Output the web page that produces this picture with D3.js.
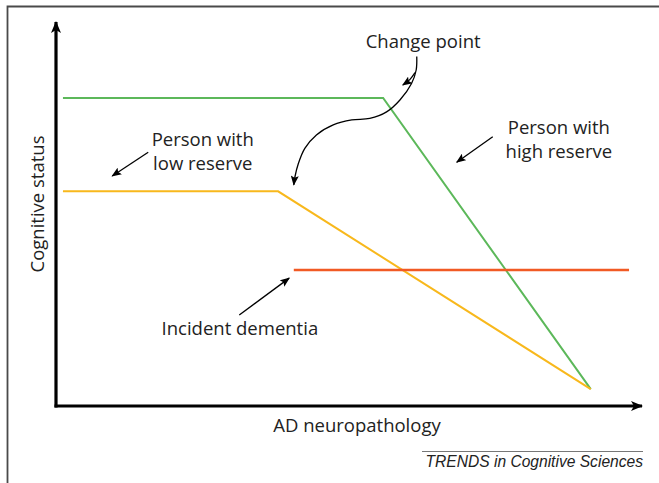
<!DOCTYPE html>
<html><head><meta charset="utf-8">
<script src="https://cdn.jsdelivr.net/npm/d3@7"></script>
<style>html,body{margin:0;padding:0;background:#fff}svg{display:block}</style>
</head><body>
<script>
// ---- data (arbitrary units: x = AD neuropathology 0-100, y = cognitive status 0-100)
const highReserveX = [1.2, 56.4, 92.2];
const highReserveY = [80.2, 80.2, 4.4];
const lowReserveX = [1.2, 38.3, 92.2];
const lowReserveY = [55.9, 55.9, 4.4];
const dementiaX = [41.0, 98.8];
const dementiaY = [35.4, 35.4];
const labels = ["Change point", "Person with\nlow reserve", "Person with\nhigh reserve", "Incident dementia"];
const labelX = [63.3, 25.3, 86.7, 31.7];
const labelY = [93.2, 67.7, 70.8, 18.5];
const straightArrowsFrom = [[15.9, 66.1], [75.3, 70.1], [31.6, 23.7]];
const straightArrowsTo = [[9.7, 59.9], [69.1, 63.5], [40.2, 33.3]];
const changeCurve = [[62.2, 91.0], [62.1, 87.5], [61.3, 84.0], [59.3, 79.7], [57.0, 76.6], [54.1, 74.9], [51.0, 74.5], [47.8, 73.2], [44.9, 70.6], [42.9, 67.1], [41.8, 63.2], [41.2, 59.7], [41.0, 57.6]];
const changeBranch = [[61.9, 86.8], [61.0, 85.0], [59.8, 83.6]];
const xAxisTitle = "AD neuropathology";
const yAxisTitle = "Cognitive status";
const footer = "TRENDS in Cognitive Sciences";

const W = 659, H = 483;
const x = d3.scaleLinear().domain([0, 100]).range([56, 636]);
const y = d3.scaleLinear().domain([0, 100]).range([406, 22]);

const svg = d3.select("body").append("svg").attr("width", W).attr("height", H);
const defs = svg.append("defs");
defs.append("marker").attr("id", "axisHead").attr("viewBox", "0 0 12 10")
  .attr("refX", 11).attr("refY", 5).attr("markerWidth", 12).attr("markerHeight", 10)
  .attr("markerUnits", "userSpaceOnUse").attr("orient", "auto")
  .append("path").attr("d", "M0,0 L12,5 L0,10 L3,5 Z").attr("fill", "#000");
defs.append("marker").attr("id", "head").attr("viewBox", "0 0 10 8")
  .attr("refX", 9).attr("refY", 4).attr("markerWidth", 10).attr("markerHeight", 8)
  .attr("markerUnits", "userSpaceOnUse").attr("orient", "auto")
  .append("path").attr("d", "M0,0 L10,4 L0,8 L2,4 Z").attr("fill", "#000");

// frame
svg.append("path").attr("d", `M7.5,${H} V6.5 H${W}`).attr("fill", "none")
  .attr("stroke", "#4a4a4a").attr("stroke-width", 1.8);

// axes
svg.append("line").attr("x1", x(0)).attr("y1", y(0) + 1.5).attr("x2", x(0)).attr("y2", y(100))
  .attr("stroke", "#000").attr("stroke-width", 3.2).attr("marker-end", "url(#axisHead)");
svg.append("line").attr("x1", x(0) - 1.5).attr("y1", y(0)).attr("x2", x(100) + 6).attr("y2", y(0))
  .attr("stroke", "#000").attr("stroke-width", 3.2).attr("marker-end", "url(#axisHead)");

const line = d3.line().x(d => x(d[0])).y(d => y(d[1]));
const series = [
  {xs: highReserveX, ys: highReserveY, c: "#5cb85a", w: 2},
  {xs: lowReserveX, ys: lowReserveY, c: "#f8b81c", w: 2},
  {xs: dementiaX, ys: dementiaY, c: "#f15a24", w: 2.5}
];
series.forEach(s => {
  svg.append("path").datum(s.xs.map((v, i) => [v, s.ys[i]]))
    .attr("d", line).attr("fill", "none").attr("stroke", s.c).attr("stroke-width", s.w)
    .attr("stroke-linejoin", "miter");
});

// annotation arrows
straightArrowsFrom.forEach((f, i) => {
  const t = straightArrowsTo[i];
  svg.append("line").attr("x1", x(f[0])).attr("y1", y(f[1])).attr("x2", x(t[0])).attr("y2", y(t[1]))
    .attr("stroke", "#000").attr("stroke-width", 1.3).attr("marker-end", "url(#head)");
});
const curve = d3.line().x(d => x(d[0])).y(d => y(d[1])).curve(d3.curveCatmullRom);
svg.append("path").datum(changeCurve).attr("d", curve).attr("fill", "none")
  .attr("stroke", "#000").attr("stroke-width", 1.3).attr("marker-end", "url(#head)");
svg.append("path").datum(changeBranch).attr("d", curve).attr("fill", "none")
  .attr("stroke", "#000").attr("stroke-width", 1.3).attr("marker-end", "url(#head)");

// labels
const font = "'Open Sans', 'Noto Sans', sans-serif";
const fs = 18.5;
labels.forEach((lab, i) => {
  const t = svg.append("text").attr("x", x(labelX[i])).attr("y", y(labelY[i]))
    .attr("text-anchor", "middle").attr("font-family", font).attr("font-size", fs).attr("fill", "#222");
  lab.split("\n").forEach((ln, j) => {
    t.append("tspan").attr("x", x(labelX[i])).attr("dy", j ? 24 : 0).text(ln);
  });
});
svg.append("text").attr("x", 357).attr("y", 432).attr("text-anchor", "middle")
  .attr("font-family", font).attr("font-size", fs).attr("fill", "#222").text(xAxisTitle);
svg.append("text").attr("transform", "translate(44,204) rotate(-90)").attr("text-anchor", "middle")
  .attr("font-family", font).attr("font-size", fs).attr("fill", "#222").text(yAxisTitle);

// footer
svg.append("line").attr("x1", 422).attr("x2", 643).attr("y1", 451.5).attr("y2", 451.5)
  .attr("stroke", "#777").attr("stroke-width", 1);
svg.append("text").attr("x", 643).attr("y", 467).attr("text-anchor", "end")
  .attr("font-family", "'Liberation Sans', Arial, sans-serif").attr("font-style", "italic")
  .attr("font-size", 15.6).attr("fill", "#222").text(footer);
</script>
</body></html>
